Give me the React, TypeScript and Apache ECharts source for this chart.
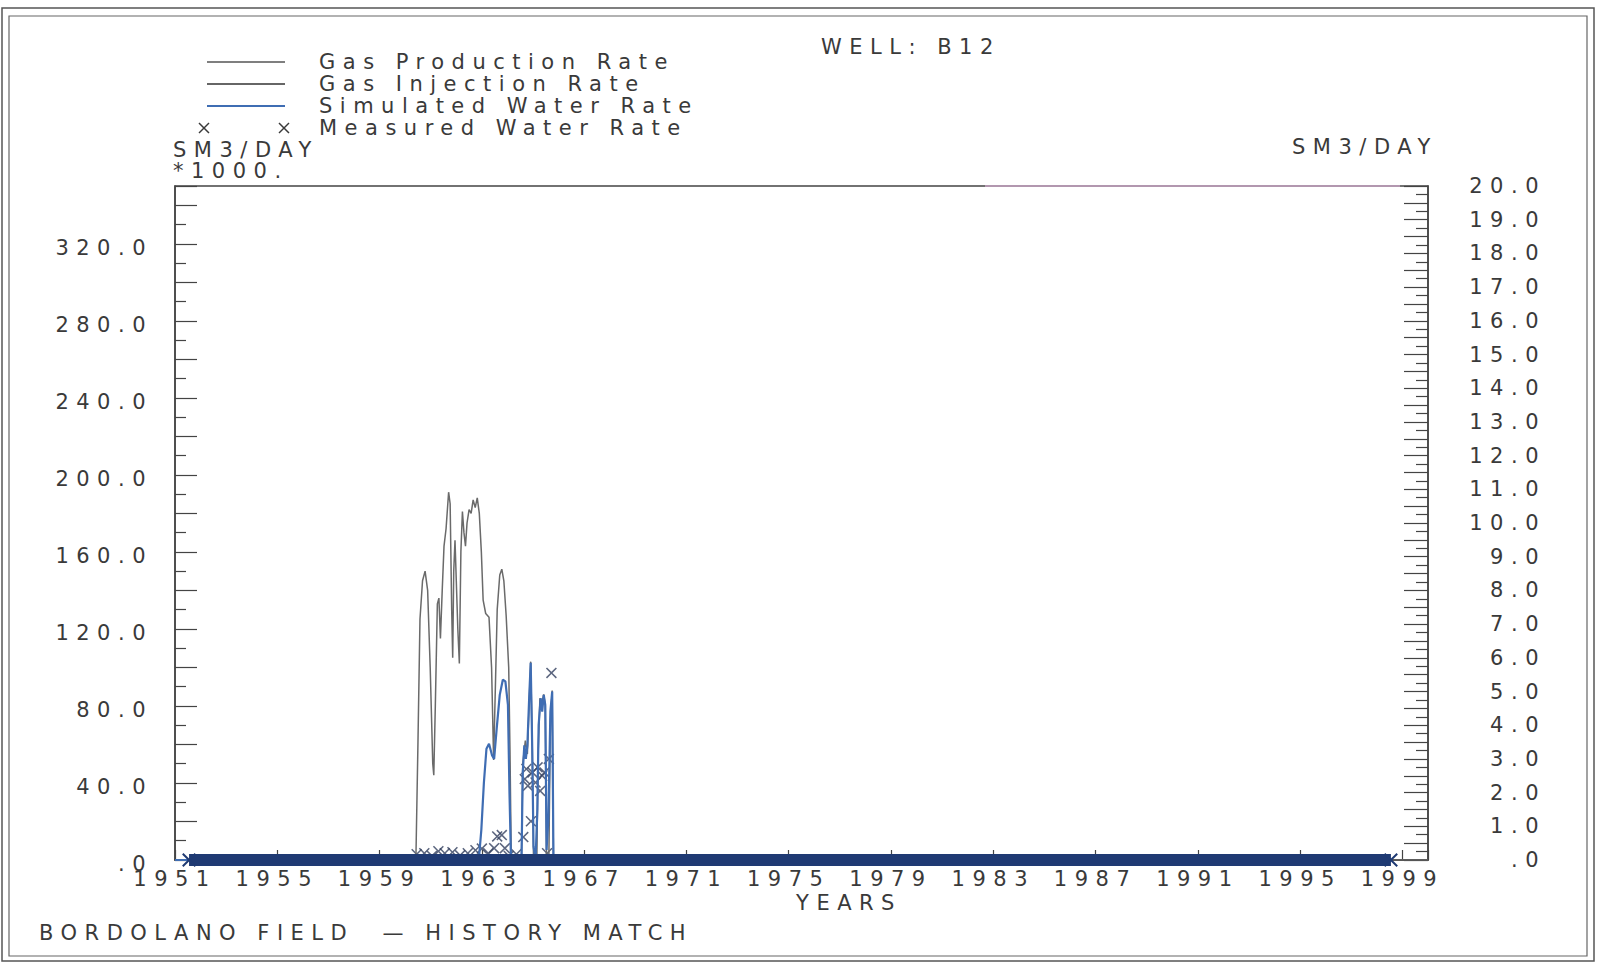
import React, { useEffect, useRef } from "react";
import * as echarts from "echarts";

// ---------------- data ----------------
const YEAR0 = 1951;
const YEAR_END = 2000;
const xTickYears = [1951, 1955, 1959, 1963, 1967, 1971, 1975, 1979, 1983, 1987, 1991, 1995, 1999];
const leftTickLabels = [0, 40, 80, 120, 160, 200, 240, 280, 320];
const rightTickLabels = [0, 1, 2, 3, 4, 5, 6, 7, 8, 9, 10, 11, 12, 13, 14, 15, 16, 17, 18, 19, 20];

// Gas production rate, SM3/DAY *1000 (left axis)
const gasProdYears = [
  1951.0, 1960.42, 1960.5, 1960.58, 1960.68, 1960.78, 1960.88, 1960.98, 1961.08, 1961.12,
  1961.18, 1961.26, 1961.32, 1961.38, 1961.45, 1961.52, 1961.6, 1961.7, 1961.76, 1961.82,
  1961.86, 1961.9, 1961.95, 1962.0, 1962.06, 1962.12, 1962.18, 1962.24, 1962.3, 1962.36,
  1962.42, 1962.5, 1962.58, 1962.66, 1962.74, 1962.82, 1962.9, 1962.98, 1963.05, 1963.15,
  1963.28, 1963.38, 1963.46, 1963.52, 1963.6, 1963.7, 1963.78, 1963.86, 1963.95, 1964.05,
  1964.1, 1964.15, 1964.55, 1964.6, 1964.7, 1964.78, 1964.86, 1964.91, 1964.97, 1965.02,
  1965.15, 1965.2, 1965.27, 1965.35, 1965.42, 1965.48, 1965.53, 1965.62, 1965.68, 1965.75,
  1965.8, 2000.0,
];
const gasProdValues = [
  0, 0, 60, 125, 145, 150, 140, 100, 50, 44,
  80, 133, 136, 115, 140, 163, 172, 191, 185, 130,
  105, 150, 166, 145, 120, 102, 160, 181, 170, 163,
  175, 182, 180, 187, 183, 188, 180, 160, 135, 128,
  126, 100, 52, 85, 130, 148, 151, 145, 127, 100,
  57, 0, 0, 50, 62, 55, 85, 103, 60, 0,
  0, 55, 84, 82, 86, 80, 0, 0, 72, 88,
  0, 0,
];

// Gas injection rate, SM3/DAY *1000 (left axis)
const gasInjYears = [1951.0, 2000.0];
const gasInjValues = [0, 0];

// Simulated water rate, SM3/DAY (right axis)
const simWaterYears = [
  1951.0, 1962.88, 1962.98, 1963.08, 1963.18, 1963.28, 1963.4, 1963.48, 1963.58, 1963.7,
  1963.82, 1963.92, 1964.02, 1964.08, 1964.14, 1964.55, 1964.6, 1964.66, 1964.72, 1964.78,
  1964.85, 1964.91, 1964.97, 1965.02, 1965.1, 1965.17, 1965.22, 1965.3, 1965.36, 1965.42,
  1965.48, 1965.53, 1965.6, 1965.68, 1965.75, 1965.8, 1998.6,
];
const simWaterValues = [
  0, 0, 0.9, 2.3, 3.3, 3.45, 3.1, 3.0, 3.9, 4.9,
  5.35, 5.3, 4.6, 2.0, 0, 0, 2.6, 3.4, 3.0, 3.4,
  4.8, 5.85, 3.3, 0.4, 0, 1.5, 4.0, 4.8, 4.4, 4.9,
  4.6, 0.3, 1.2, 4.4, 5.0, 0, 0,
];

// Measured water rate, SM3/DAY (right axis): non-zero observations
const measWaterYears = [
  1960.45, 1960.75, 1961.05, 1961.3, 1961.55, 1961.85, 1962.15, 1962.45, 1962.75, 1963.0,
  1963.25, 1963.48, 1963.6, 1963.78, 1963.9, 1964.05, 1964.35, 1964.62, 1964.68, 1964.74,
  1964.8, 1964.92, 1964.98, 1965.1, 1965.18, 1965.28, 1965.36, 1965.45, 1965.55, 1965.62,
  1965.72,
];
const measWaterValues = [
  0.17, 0.2, 0.12, 0.26, 0.2, 0.23, 0.14, 0.2, 0.29, 0.34,
  0.2, 0.35, 0.7, 0.74, 0.35, 0.12, 0.17, 0.68, 2.4, 2.7,
  2.2, 1.15, 2.6, 2.3, 2.75, 2.05, 2.5, 2.6, 0.2, 3.0,
  5.55,
];
// Measured water rate = 0 at every report step over this span (dense markers)
const measZeroSpanYears = [1951.55, 1998.55];
const measZeroSpanValues = [0, 0];

// ---------------- styling ----------------
const FONT = "DejaVu Sans";
const FS = 21;
const LS = 7.5;
const TXT = "#3a3a3a";
const AX = "#444444";
const GRID = { left: 175, top: 186, width: 1253, height: 674 };

const pair = (xs: number[], ys: number[]) => xs.map((x, i) => [x - YEAR0, ys[i]]);
const fmt = (v: number) => (v === 0 ? ".0" : v.toFixed(1));
const X_PATH = "path://M0,1L1,0L5,4L9,0L10,1L6,5L10,9L9,10L5,6L1,10L0,9L4,5Z";

export default function App() {
  const ref = useRef<HTMLDivElement>(null);

  useEffect(() => {
    if (!ref.current) return;
    const chart = echarts.init(ref.current, undefined, { renderer: "svg" });
    const txt = (text: string, x: number, y: number, align = "left") => ({
      type: "text",
      x,
      y,
      silent: true,
      style: { text, fill: TXT, fontSize: FS, fontFamily: FONT, align, verticalAlign: "middle" },
    });
    const legendLine = (y: number, color: string, w: number) => ({
      type: "line",
      silent: true,
      shape: { x1: 207, y1: y, x2: 285, y2: y },
      style: { stroke: color, lineWidth: w },
    });
    const cross = (cx: number, cy: number) => ({
      type: "group",
      silent: true,
      children: [
        { type: "line", shape: { x1: cx - 5, y1: cy - 5, x2: cx + 5, y2: cy + 5 }, style: { stroke: TXT, lineWidth: 1.5 } },
        { type: "line", shape: { x1: cx + 5, y1: cy - 5, x2: cx - 5, y2: cy + 5 }, style: { stroke: TXT, lineWidth: 1.5 } },
      ],
    });

    const option: any = {
      animation: false,
      backgroundColor: "#ffffff",
      grid: { ...GRID, show: true, borderColor: AX, borderWidth: 1.5, backgroundColor: "transparent" },
      xAxis: {
        type: "value",
        min: 0,
        max: YEAR_END - YEAR0,
        interval: 4,
        axisLine: { show: true, lineStyle: { color: AX, width: 1.5 } },
        axisTick: { show: true, inside: true, length: 10, lineStyle: { color: AX, width: 1.2 } },
        axisLabel: {
          margin: 8,
          fontSize: FS,
          fontFamily: FONT,
          color: TXT,
          formatter: (v: number) => (xTickYears.includes(Math.round(v) + YEAR0) ? String(Math.round(v) + YEAR0) : ""),
        },
        splitLine: { show: false },
      },
      yAxis: [
        {
          type: "value",
          position: "left",
          min: 0,
          max: 350,
          interval: 20,
          axisLine: { show: true, lineStyle: { color: AX, width: 1.5 } },
          axisTick: { show: true, inside: true, length: 22, lineStyle: { color: AX, width: 1.2 } },
          minorTick: { show: true, splitNumber: 2, length: 11, lineStyle: { color: AX, width: 1.2 } },
          axisLabel: {
            margin: 22,
            fontSize: FS,
            fontFamily: FONT,
            color: TXT,
            verticalAlign: "top",
            lineHeight: 8,
            formatter: (v: number) => (leftTickLabels.includes(v) ? fmt(v) : ""),
          },
          splitLine: { show: false },
        },
        {
          type: "value",
          position: "right",
          min: 0,
          max: 20,
          interval: 0.5,
          axisLine: { show: true, lineStyle: { color: AX, width: 1.5 } },
          axisTick: { show: true, inside: true, length: 24, lineStyle: { color: AX, width: 1.2 } },
          minorTick: { show: true, splitNumber: 2, length: 12, lineStyle: { color: AX, width: 1.2 } },
          axisLabel: {
            margin: 118,
            align: "right",
            fontSize: FS,
            fontFamily: FONT,
            color: TXT,
            formatter: (v: number) => {
              const r = Math.round(v * 100) / 100;
              return rightTickLabels.includes(r) ? fmt(r) : "";
            },
          },
          splitLine: { show: false },
        },
      ],
      series: [
        {
          name: "Gas Injection Rate",
          type: "line",
          yAxisIndex: 0,
          data: pair(gasInjYears, gasInjValues),
          showSymbol: false,
          lineStyle: { color: "#333333", width: 1.5 },
          silent: true,
        },
        {
          name: "Gas Production Rate",
          type: "line",
          yAxisIndex: 0,
          data: pair(gasProdYears, gasProdValues),
          showSymbol: false,
          lineStyle: { color: "#6a6a6a", width: 1.5 },
          silent: true,
        },
        {
          name: "Simulated Water Rate",
          type: "line",
          yAxisIndex: 1,
          data: pair(simWaterYears, simWaterValues),
          showSymbol: false,
          lineStyle: { color: "#3f6db3", width: 2.2 },
          silent: true,
        },
        {
          name: "Measured Water Rate (zero)",
          type: "line",
          yAxisIndex: 1,
          data: pair(measZeroSpanYears, measZeroSpanValues),
          symbol: X_PATH,
          symbolSize: 14,
          showSymbol: true,
          itemStyle: { color: "#1f3a73" },
          lineStyle: { color: "#1f3a73", width: 12 },
          silent: true,
        },
        {
          name: "Measured Water Rate",
          type: "scatter",
          yAxisIndex: 1,
          data: pair(measWaterYears, measWaterValues),
          symbol: X_PATH,
          symbolSize: 11,
          itemStyle: { color: "#33405f" },
          silent: true,
        },
      ],
      graphic: [
        { type: "rect", silent: true, shape: { x: 2, y: 8, width: 1592, height: 953 }, style: { fill: "none", stroke: "#555", lineWidth: 1.5 } },
        { type: "rect", silent: true, shape: { x: 9, y: 16, width: 1578, height: 940 }, style: { fill: "none", stroke: "#666", lineWidth: 1.2 } },
        { type: "line", silent: true, shape: { x1: 985, y1: 186, x2: 1400, y2: 186 }, style: { stroke: "#c9a5c4", lineWidth: 1.6 } },
        legendLine(62, "#555555", 1.5),
        legendLine(84, "#333333", 1.5),
        legendLine(106, "#3f6db3", 2),
        cross(204, 128),
        cross(284, 128),
        txt("Gas Production Rate", 319, 62),
        txt("Gas Injection Rate", 319, 84),
        txt("Simulated Water Rate", 319, 106),
        txt("Measured Water Rate", 319, 128),
        txt("SM3/DAY", 173, 150),
        txt("*1000.", 173, 171),
        txt("WELL: B12", 821, 47),
        txt("SM3/DAY", 1292, 147),
        txt("YEARS", 849, 903, "center"),
        txt("BORDOLANO FIELD  \u2014 HISTORY MATCH", 39, 933),
      ],
    };
    chart.setOption(option);
    return () => chart.dispose();
  }, []);

  return (
    <>
      <style>{`.rs-chart svg text { letter-spacing: ${LS}px; }`}</style>
      <div
        ref={ref}
        className="rs-chart"
        style={{ position: "absolute", left: 0, top: 0, width: 1598, height: 964, background: "#fff" }}
      />
    </>
  );
}
